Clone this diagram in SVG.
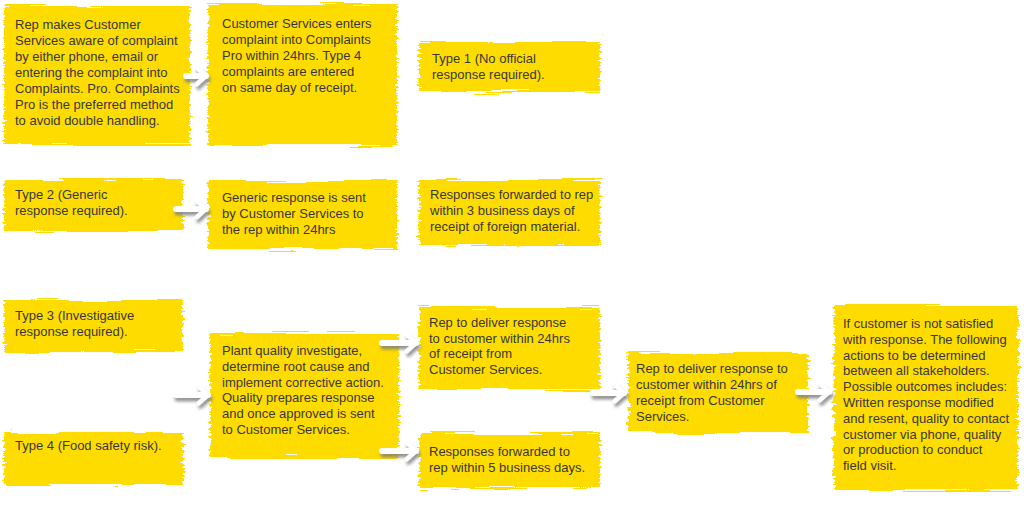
<svg xmlns="http://www.w3.org/2000/svg" width="1024" height="526" viewBox="0 0 1024 526">
<style>
.box{fill:#FFDC00;filter:url(#rough)}
text{font-family:"Liberation Sans",Arial,sans-serif;font-size:13px;fill:#383838}
.conn{fill:none;stroke:#ffffff;stroke-width:6;stroke-linecap:round;marker-end:url(#chev)}
</style>
<defs>
<filter id="rough" x="-6%" y="-8%" width="112%" height="116%">
<feTurbulence type="fractalNoise" baseFrequency="0.015 0.45" numOctaves="2" seed="4" result="n"/>
<feDisplacementMap in="SourceGraphic" in2="n" scale="10" xChannelSelector="R" yChannelSelector="G"/>
</filter>
<filter id="shadow" x="-20%" y="-60%" width="150%" height="240%">
<feDropShadow dx="1.5" dy="3.5" stdDeviation="1.4" flood-color="#7a7a7a" flood-opacity="0.8"/>
</filter>
<marker id="chev" markerUnits="userSpaceOnUse" markerWidth="16" markerHeight="20" refX="10" refY="9" orient="auto" overflow="visible">
<path d="M1,1 L10,9 L1,17" fill="none" stroke="#ffffff" stroke-width="4.5" stroke-linejoin="round" stroke-linecap="round"/>
</marker>
</defs>
<rect width="1024" height="526" fill="#ffffff"/>

<g id="n1"><rect class="box" x="4" y="6" width="186" height="139"/>
<text x="15" y="29">Rep makes Customer</text>
<text x="15" y="45">Services aware of complaint</text>
<text x="15" y="61">by either phone, email or</text>
<text x="15" y="77">entering the complaint into</text>
<text x="15" y="93">Complaints. Pro. Complaints</text>
<text x="15" y="109">Pro is the preferred method</text>
<text x="15" y="125">to avoid double handling.</text></g>

<g id="n2"><rect class="box" x="208" y="4" width="189" height="141"/>
<text x="222" y="28">Customer Services enters</text>
<text x="222" y="44">complaint into Complaints</text>
<text x="222" y="60">Pro within 24hrs. Type 4</text>
<text x="222" y="76">complaints are entered</text>
<text x="222" y="92">on same day of receipt.</text></g>

<g id="n3"><rect class="box" x="419" y="42" width="181" height="50"/>
<text x="432" y="63">Type 1 (No official</text>
<text x="432" y="79">response required).</text></g>

<g id="n4"><rect class="box" x="4" y="179" width="179" height="52"/>
<text x="15" y="199">Type 2 (Generic</text>
<text x="15" y="215">response required).</text></g>

<g id="n5"><rect class="box" x="208" y="181" width="189" height="68"/>
<text x="222" y="202">Generic response is sent</text>
<text x="222" y="218">by Customer Services to</text>
<text x="222" y="234">the rep within 24hrs</text></g>

<g id="n6"><rect class="box" x="419" y="180" width="181" height="66"/>
<text x="430" y="199">Responses forwarded to rep</text>
<text x="430" y="215">within 3 business days of</text>
<text x="430" y="231">receipt of foreign material.</text></g>

<g id="n7"><rect class="box" x="4" y="300" width="179" height="52"/>
<text x="15" y="320">Type 3 (Investigative</text>
<text x="15" y="336">response required).</text></g>

<g id="n8"><rect class="box" x="4" y="432" width="179" height="53"/>
<text x="15" y="450">Type 4 (Food safety risk).</text></g>

<g id="n9"><rect class="box" x="210" y="333" width="189" height="125"/>
<text x="222" y="355">Plant quality investigate,</text>
<text x="222" y="371">determine root cause and</text>
<text x="222" y="387">implement corrective action.</text>
<text x="222" y="402">Quality prepares response</text>
<text x="222" y="418">and once approved is sent</text>
<text x="222" y="434">to Customer Services.</text></g>

<g id="n10"><rect class="box" x="419" y="307" width="181" height="83"/>
<text x="429" y="327">Rep to deliver response</text>
<text x="429" y="343">to customer within 24hrs</text>
<text x="429" y="358">of receipt from</text>
<text x="429" y="374">Customer Services.</text></g>

<g id="n11"><rect class="box" x="419" y="433" width="181" height="55"/>
<text x="429" y="456">Responses forwarded to</text>
<text x="429" y="472">rep within 5 business days.</text></g>

<g id="n12"><rect class="box" x="628" y="353" width="180" height="80"/>
<text x="636" y="373">Rep to deliver response to</text>
<text x="636" y="389">customer within 24hrs of</text>
<text x="636" y="405">receipt from Customer</text>
<text x="636" y="421">Services.</text></g>

<g id="n13"><rect class="box" x="834" y="305" width="184" height="185"/>
<text x="843" y="328">If customer is not satisfied</text>
<text x="843" y="344">with response. The following</text>
<text x="843" y="360">actions to be determined</text>
<text x="843" y="375">between all stakeholders.</text>
<text x="843" y="391">Possible outcomes includes:</text>
<text x="843" y="407">Written response modified</text>
<text x="843" y="423">and resent, quality to contact</text>
<text x="843" y="439">customer via phone, quality</text>
<text x="843" y="454">or production to conduct</text>
<text x="843" y="470">field visit.</text></g>

<g id="connectors" filter="url(#shadow)">
<path class="conn" d="M186,76 H206"/>
<path class="conn" d="M176,209 H206"/>
<path class="conn" d="M176,395 H208"/>
<path class="conn" d="M382,343 H416"/>
<path class="conn" d="M382,451 H416"/>
<path class="conn" d="M593,393 H624"/>
<path class="conn" d="M798,392 H829"/>
</g>
</svg>
